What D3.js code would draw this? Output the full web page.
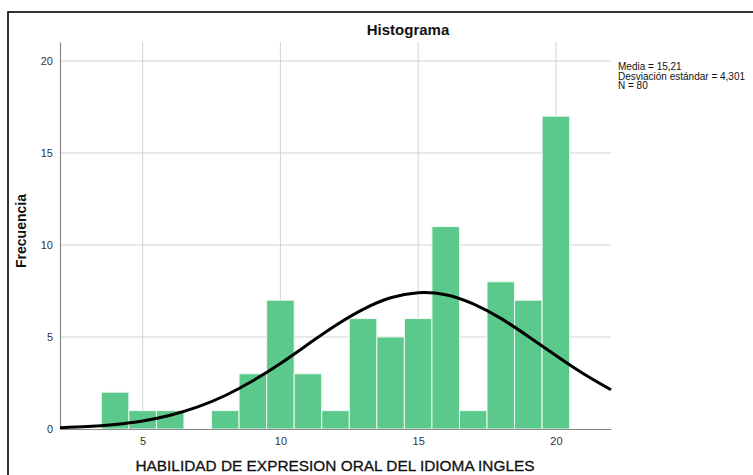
<!DOCTYPE html>
<html>
<head>
<meta charset="utf-8">
<script src="https://cdn.jsdelivr.net/npm/d3@7"></script>
<style>
  html, body { margin: 0; padding: 0; background: #fff; }
  svg { display: block; font-family: "Liberation Sans", Arial, sans-serif; }
</style>
</head>
<body>
<svg id="chart" width="753" height="475"></svg>
<script>
// ---- Data ----
const binCenters = [4, 5, 6, 7, 8, 9, 10, 11, 12, 13, 14, 15, 16, 17, 18, 19, 20];
const frequencies = [2, 1, 1, 0, 1, 3, 7, 3, 1, 6, 5, 6, 11, 1, 8, 7, 17];
// Normal curve heights at each integer score
const curveX = [2, 3, 4, 5, 6, 7, 8, 9, 10, 11, 12, 13, 14, 15, 16, 17, 18, 19, 20, 21, 22];
const curveY = [0.07, 0.13, 0.25, 0.44, 0.75, 1.20, 1.82, 2.62, 3.56, 4.60, 5.62, 6.50, 7.13, 7.41, 7.30, 6.80, 6.01, 5.03, 3.99, 3.00, 2.13];
const xTicks = [5, 10, 15, 20];
const yTicks = [0, 5, 10, 15, 20];
const statsLines = ["Media = 15,21", "Desviación estándar = 4,301", "N = 80"];
const titleText = "Histograma";
const xLabel = "HABILIDAD DE EXPRESION ORAL DEL IDIOMA INGLES";
const yLabel = "Frecuencia";

// ---- Layout ----
const plot = { left: 60, right: 611, top: 42, bottom: 429 };
const svg = d3.select("#chart");

const x = d3.scaleLinear().domain([2, 22]).range([plot.left, plot.right]);
const y = d3.scaleLinear().domain([0, 21.03]).range([plot.bottom, plot.top]);

// outer frame (extends past window to right/bottom)
svg.append("rect")
  .attr("x", 8).attr("y", 12)
  .attr("width", 800).attr("height", 500)
  .attr("fill", "none").attr("stroke", "#000").attr("stroke-width", 1.6);

// gridlines
const grid = svg.append("g");
grid.selectAll("line.v").data(xTicks).join("line")
  .attr("x1", d => x(d)).attr("x2", d => x(d))
  .attr("y1", plot.top).attr("y2", plot.bottom)
  .attr("stroke", "#d2d2d2").attr("stroke-width", 1);
grid.selectAll("line.h").data(yTicks.filter(d => d > 0)).join("line")
  .attr("x1", plot.left).attr("x2", plot.right)
  .attr("y1", d => y(d)).attr("y2", d => y(d))
  .attr("stroke", "#d2d2d2").attr("stroke-width", 1);

// bars
svg.append("g").selectAll("rect").data(binCenters.map((c, i) => ({c, f: frequencies[i]})).filter(d => d.f > 0))
  .join("rect")
  .attr("x", d => x(d.c - 0.5))
  .attr("width", d => x(d.c + 0.5) - x(d.c - 0.5))
  .attr("y", d => y(d.f))
  .attr("height", d => y(0) - y(d.f))
  .attr("fill", "#5bc98b")
  .attr("stroke", "#eefaf2").attr("stroke-width", 1);

// axes
const xAxis = d3.axisBottom(x).tickValues(xTicks).tickSize(0).tickPadding(8);
const gx = svg.append("g").attr("transform", `translate(0,${plot.bottom})`).call(xAxis);
gx.select(".domain").attr("stroke", "#8a8a8a").attr("stroke-width", 1.2);
gx.selectAll("text").attr("font-size", 11).attr("fill", "#333").attr("font-family", "Liberation Sans, Arial, sans-serif");

const yAxis = d3.axisLeft(y).tickValues(yTicks).tickSize(0).tickPadding(7);
const gy = svg.append("g").attr("transform", `translate(${plot.left},0)`).call(yAxis);
gy.select(".domain").attr("stroke", "#8a8a8a").attr("stroke-width", 1.2);
gy.selectAll("text").attr("font-size", 11).attr("fill", "#333").attr("font-family", "Liberation Sans, Arial, sans-serif");

// normal curve
const line = d3.line().x(d => x(d[0])).y(d => y(d[1])).curve(d3.curveNatural);
svg.append("path")
  .datum(curveX.map((v, i) => [v, curveY[i]]))
  .attr("d", line)
  .attr("fill", "none").attr("stroke", "#000").attr("stroke-width", 3);

// title
svg.append("text").attr("x", 408).attr("y", 35)
  .attr("text-anchor", "middle").attr("font-size", 15).attr("font-weight", "bold")
  .attr("fill", "#111").text(titleText);

// y label
svg.append("text")
  .attr("transform", `translate(26,231) rotate(-90)`)
  .attr("text-anchor", "middle").attr("font-size", 14).attr("font-weight", "bold")
  .attr("fill", "#111").text(yLabel);

// x label
svg.append("text").attr("x", 335).attr("y", 471)
  .attr("text-anchor", "middle").attr("font-size", 15.4)
  .attr("fill", "#111").attr("stroke", "#111").attr("stroke-width", 0.3).text(xLabel);

// stats
svg.append("g").selectAll("text").data(statsLines).join("text")
  .attr("x", 618).attr("y", (d, i) => 70 + i * 9.6)
  .attr("font-size", 10).attr("fill", "#111").text(d => d);
</script>
</body>
</html>
